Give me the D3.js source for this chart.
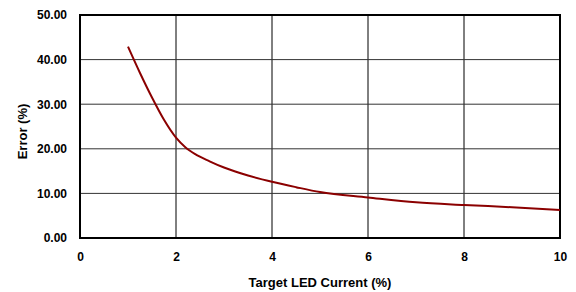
<!DOCTYPE html>
<html>
<head>
<meta charset="utf-8">
<script src="https://cdn.jsdelivr.net/npm/d3@7"></script>
<style>
  body { margin: 0; background: #fff; }
  text { font-family: "Liberation Sans", Arial, sans-serif; font-weight: bold; font-size: 13px; fill: #000; }
</style>
</head>
<body>
<div id="chart"></div>
<script>
const currentPct = [1, 1.25, 1.5, 1.75, 2, 2.2, 2.4, 2.7, 3, 3.5, 4, 4.5, 5, 6, 7, 8, 9, 10];
const errorPct = [42.9, 37.0, 31.5, 26.5, 22.5, 20.3, 18.8, 17.2, 15.8, 14.0, 12.6, 11.4, 10.3, 9.1, 8.0, 7.4, 6.9, 6.3];
const xTicks = [0, 2, 4, 6, 8, 10];
const yTicks = [0, 10, 20, 30, 40, 50];

const width = 576;
const height = 292;
const margin = { top: 15, right: 16, bottom: 54, left: 80 };
const w = width - margin.left - margin.right;
const h = height - margin.top - margin.bottom;

const svg = d3.select("#chart")
    .append("svg")
    .attr("width", width)
    .attr("height", height)
    .append("g")
    .attr("transform", `translate(${margin.left},${margin.top})`);

const xScale = d3.scaleLinear().domain([0, 10]).range([0, w]);
const yScale = d3.scaleLinear().domain([0, 50]).range([h, 0]);

// grid
svg.selectAll(".vgrid")
    .data(xTicks)
    .enter().append("line")
    .attr("x1", d => xScale(d)).attr("x2", d => xScale(d))
    .attr("y1", 0).attr("y2", h)
    .attr("stroke", "#000").attr("stroke-width", 1);

svg.selectAll(".hgrid")
    .data(yTicks)
    .enter().append("line")
    .attr("x1", 0).attr("x2", w)
    .attr("y1", d => yScale(d)).attr("y2", d => yScale(d))
    .attr("stroke", "#333").attr("stroke-width", 1);

// axes labels
const xAxis = svg.append("g")
    .attr("transform", `translate(0,${h})`)
    .call(d3.axisBottom(xScale).tickValues(xTicks).tickSize(0).tickPadding(14));
xAxis.select(".domain").remove();

const yAxis = svg.append("g")
    .call(d3.axisLeft(yScale).tickValues(yTicks).tickFormat(d3.format(".2f")).tickSize(0).tickPadding(13));
yAxis.select(".domain").remove();

svg.selectAll(".tick text")
    .style("font-family", "'Liberation Sans', Arial, sans-serif")
    .style("font-weight", "bold")
    .style("font-size", "12px")
    .attr("fill", "#000");

// frame
svg.append("rect")
    .attr("width", w).attr("height", h)
    .attr("fill", "none").attr("stroke", "#000").attr("stroke-width", 2);

// curve
const line = d3.line()
    .x((d, i) => xScale(currentPct[i]))
    .y(d => yScale(d))
    .curve(d3.curveMonotoneX);

svg.append("path")
    .datum(errorPct)
    .attr("fill", "none")
    .attr("stroke", "#8b0000")
    .attr("stroke-width", 2)
    .attr("d", line);

svg.append("text")
    .attr("x", w / 2)
    .attr("y", h + 49)
    .attr("text-anchor", "middle")
    .text("Target LED Current (%)");

svg.append("text")
    .attr("transform", "rotate(-90)")
    .attr("x", -(h / 2) - 5)
    .attr("y", -53)
    .attr("text-anchor", "middle")
    .text("Error (%)");
</script>
</body>
</html>
